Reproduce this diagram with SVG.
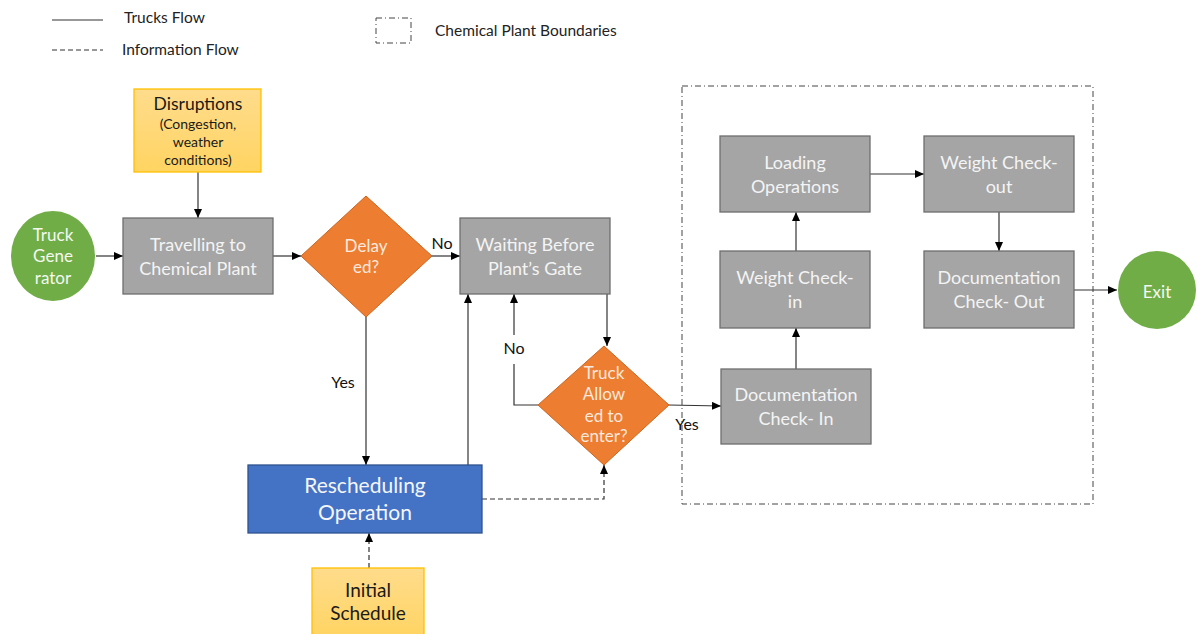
<svg xmlns="http://www.w3.org/2000/svg" width="1198" height="634" viewBox="0 0 1198 634">
  <style>
    text { font-family: Lato, "Open Sans", "Liberation Sans", sans-serif; text-anchor: middle; }
    .proc { fill: #A5A5A5; stroke: #6E6E6E; stroke-width: 1.3; }
    .proc-t { fill: #F4F4F4; font-size: 18px; }
    .dec { fill: #ED7D31; stroke: #C9661F; stroke-width: 1; }
    .dec-t { fill: #FBE9DD; font-size: 17px; }
    .term { fill: #70AD47; }
    .term-t { fill: #F4F8EF; font-size: 17px; }
    .note { fill: url(#noteFill); stroke: #FFC000; stroke-width: 1.3; }
    .note-t { fill: #1A1A1A; }
    .lbl { fill: #111; font-size: 16px; }
    .legend-t { fill: #222; font-size: 15.5px; text-anchor: start; }
    .flow { fill: none; stroke: #333; stroke-width: 1.2; }
    .info { fill: none; stroke: #333; stroke-width: 1.2; stroke-dasharray: 5 3; }
    .bound { fill: none; stroke: #444; stroke-width: 1; stroke-dasharray: 6 3 1 3; }
  </style>
  <defs>
    <linearGradient id="noteFill" x1="0" y1="0" x2="0" y2="1">
      <stop offset="0" stop-color="#FFDC8C"/>
      <stop offset="1" stop-color="#FFD462"/>
    </linearGradient>
    <marker id="arr" markerUnits="userSpaceOnUse" markerWidth="9" markerHeight="8" refX="9" refY="4" orient="auto">
      <path d="M0,0 L9,4 L0,8 z" fill="#000"/>
    </marker>
  </defs>

  <!-- legend -->
  <g id="legend">
    <line x1="52" y1="20" x2="103" y2="20" stroke="#333" stroke-width="1.2"/>
    <text class="legend-t" x="124" y="23">Trucks Flow</text>
    <line x1="52" y1="50" x2="103" y2="50" class="info"/>
    <text class="legend-t" x="122" y="55">Information Flow</text>
    <rect x="376" y="18" width="35" height="25" class="bound"/>
    <text class="legend-t" x="435" y="36">Chemical Plant Boundaries</text>
  </g>

  <!-- chemical plant boundary -->
  <rect id="plant-boundary" x="682" y="86" width="411" height="418" class="bound"/>

  <!-- connectors -->
  <g id="connectors">
    <path class="flow" d="M96,256 H123" marker-end="url(#arr)"/>
    <path class="flow" d="M198,172 V218" marker-end="url(#arr)"/>
    <path class="flow" d="M273,256 H301" marker-end="url(#arr)"/>
    <path class="flow" d="M432,256 H460" marker-end="url(#arr)"/>
    <path class="flow" d="M366,317 V465" marker-end="url(#arr)"/>
    <path class="flow" d="M468,465 V294" marker-end="url(#arr)"/>
    <path class="flow" d="M607,294 V346" marker-end="url(#arr)"/>
    <path class="flow" d="M538,405 H514 V364"/>
    <path class="flow" d="M514,335 V294" marker-end="url(#arr)"/>
    <path class="flow" d="M669,405 L721,406" marker-end="url(#arr)"/>
    <path class="flow" d="M796,369 V328" marker-end="url(#arr)"/>
    <path class="flow" d="M796,251 V212" marker-end="url(#arr)"/>
    <path class="flow" d="M870,174 H924" marker-end="url(#arr)"/>
    <path class="flow" d="M999,212 V251" marker-end="url(#arr)"/>
    <path class="flow" d="M1074,290 H1117" marker-end="url(#arr)"/>
    <path class="info" d="M482,499 H604 V465" marker-end="url(#arr)"/>
    <path class="info" d="M369,568 V533" marker-end="url(#arr)"/>
    <text class="lbl" x="442" y="249" font-size="14">No</text>
    <text class="lbl" x="343" y="388">Yes</text>
    <text class="lbl" x="514" y="354">No</text>
    <text class="lbl" x="687" y="430">Yes</text>
  </g>

  <g id="truck-generator">
    <ellipse class="term" cx="53" cy="256" rx="42" ry="45"/>
    <text class="term-t" x="53" y="241">Truck</text>
    <text class="term-t" x="53" y="262">Gene</text>
    <text class="term-t" x="53" y="284">rator</text>
  </g>

  <g id="disruptions">
    <rect class="note" x="134" y="89" width="127" height="83"/>
    <text class="note-t" x="198" y="110" font-size="17.5">Disruptions</text>
    <text class="note-t" x="198" y="129" font-size="14">(Congestion,</text>
    <text class="note-t" x="198" y="147" font-size="14">weather</text>
    <text class="note-t" x="198" y="165" font-size="14">conditions)</text>
  </g>

  <g id="travelling">
    <rect class="proc" x="123" y="218" width="150" height="76"/>
    <text class="proc-t" x="198" y="251">Travelling to</text>
    <text class="proc-t" x="198" y="275">Chemical Plant</text>
  </g>

  <g id="delayed">
    <polygon class="dec" points="366,196 432,256 366,317 301,256"/>
    <text class="dec-t" x="366" y="252">Delay</text>
    <text class="dec-t" x="366" y="273">ed?</text>
  </g>

  <g id="waiting">
    <rect class="proc" x="460" y="218" width="150" height="76"/>
    <text class="proc-t" x="535" y="251">Waiting Before</text>
    <text class="proc-t" x="535" y="275">Plant’s Gate</text>
  </g>

  <g id="truck-allowed">
    <polygon class="dec" points="604,346 669,405 604,465 538,405"/>
    <text class="dec-t" x="604" y="379">Truck</text>
    <text class="dec-t" x="604" y="400">Allow</text>
    <text class="dec-t" x="604" y="422">ed to</text>
    <text class="dec-t" x="604" y="442">enter?</text>
  </g>

  <g id="rescheduling">
    <rect x="248" y="465" width="234" height="68" fill="#4472C4" stroke="#2F528F" stroke-width="1.3"/>
    <text x="365" y="493" font-size="21" fill="#F4F6FB">Rescheduling</text>
    <text x="365" y="520" font-size="21" fill="#F4F6FB">Operation</text>
  </g>

  <g id="initial-schedule">
    <rect class="note" x="312" y="568" width="112" height="70"/>
    <text class="note-t" x="368" y="597" font-size="19">Initial</text>
    <text class="note-t" x="368" y="620" font-size="19">Schedule</text>
  </g>

  <g id="doc-check-in">
    <rect class="proc" x="721" y="369" width="150" height="75"/>
    <text class="proc-t" x="796" y="401">Documentation</text>
    <text class="proc-t" x="796" y="425">Check- In</text>
  </g>

  <g id="weight-check-in">
    <rect class="proc" x="720" y="251" width="150" height="77"/>
    <text class="proc-t" x="795" y="284">Weight Check-</text>
    <text class="proc-t" x="795" y="308">in</text>
  </g>

  <g id="loading">
    <rect class="proc" x="720" y="136" width="150" height="76"/>
    <text class="proc-t" x="795" y="169">Loading</text>
    <text class="proc-t" x="795" y="193">Operations</text>
  </g>

  <g id="weight-check-out">
    <rect class="proc" x="924" y="136" width="150" height="76"/>
    <text class="proc-t" x="999" y="169">Weight Check-</text>
    <text class="proc-t" x="999" y="193">out</text>
  </g>

  <g id="doc-check-out">
    <rect class="proc" x="924" y="251" width="150" height="77"/>
    <text class="proc-t" x="999" y="284">Documentation</text>
    <text class="proc-t" x="999" y="308">Check- Out</text>
  </g>

  <g id="exit">
    <circle class="term" cx="1157" cy="290" r="39"/>
    <text class="term-t" x="1157" y="298" font-size="21">Exit</text>
  </g>
</svg>
